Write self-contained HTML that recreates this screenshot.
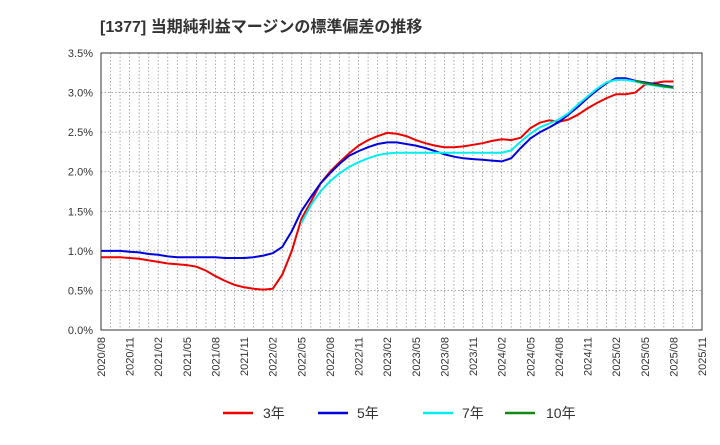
<!DOCTYPE html><html><head><meta charset="utf-8"><style>body{margin:0;background:#fff}svg{font-family:"Liberation Sans","Noto Sans CJK JP",sans-serif}</style></head><body>
<svg id="s" width="720" height="440" xmlns="http://www.w3.org/2000/svg">
<text x="100" y="32" font-size="16" font-weight="bold" fill="#333">[1377]  当期純利益マージンの標準偏差の推移</text>
<g id="g"></g>
<rect x="101" y="53" width="601" height="277" fill="none" stroke="#333" stroke-width="1"/>
<g font-size="11" fill="#333">
<line x1="223" y1="413" x2="253" y2="413" stroke="#e00" stroke-width="2.5"/><text x="263" y="418" font-size="14">3年</text>
<line x1="318" y1="413" x2="348" y2="413" stroke="#00d" stroke-width="2.5"/><text x="357" y="418" font-size="14">5年</text>
<line x1="423" y1="413" x2="453" y2="413" stroke="#0ee" stroke-width="2.5"/><text x="462" y="418" font-size="14">7年</text>
<line x1="505" y1="413" x2="535" y2="413" stroke="#181" stroke-width="2.5"/><text x="546" y="418" font-size="14">10年</text>
</g>
</svg>
<script>
const g=document.getElementById('g');let h='';
const X=m=>101+m*601/63,Y=v=>330-v*79.14;
for(let m=1;m<63;m++)h+=`<line x1="${X(m)}" y1="53" x2="${X(m)}" y2="330" stroke="#999" stroke-dasharray="1.5,2" stroke-width="0.8"/>`;
for(let i=0;i<=7;i++){const y=Y(i*0.5);if(i>0&&i<7)h+=`<line x1="101" y1="${y}" x2="702" y2="${y}" stroke="#999" stroke-dasharray="1.5,2" stroke-width="0.8"/>`;
h+=`<text x="93" y="${y+4}" font-size="11" fill="#333" text-anchor="end">${(i*0.5).toFixed(1)}%</text>`;}
for(let k=0;k<22;k++){const m=k*3,yr=2020+Math.floor((7+m)/12),mo=(7+m)%12+1;
h+=`<text transform="translate(${X(m)+4},337) rotate(-90)" font-size="11" fill="#333" text-anchor="end">${yr}/${String(mo).padStart(2,'0')}</text>`;}
function P(st,a,c){let d='';a.forEach((v,i)=>{d+=(i?'L':'M')+X(st+i).toFixed(1)+','+Y(v).toFixed(1)});h+=`<path d="${d}" fill="none" stroke="${c}" stroke-width="2"/>`;}
P(0,[.92,.92,.92,.91,.90,.88,.86,.84,.83,.82,.80,.75,.68,.62,.57,.54,.52,.51,.52,.70,1.0,1.4,1.62,1.85,2.0,2.12,2.23,2.33,2.40,2.45,2.49,2.48,2.45,2.40,2.36,2.33,2.31,2.31,2.32,2.34,2.36,2.39,2.41,2.40,2.43,2.55,2.62,2.65,2.63,2.66,2.72,2.80,2.87,2.93,2.98,2.98,3.00,3.10,3.12,3.14,3.14],'#e00');
P(0,[1.0,1.0,1.0,.99,.98,.96,.95,.93,.92,.92,.92,.92,.92,.91,.91,.91,.92,.94,.97,1.05,1.25,1.5,1.68,1.85,1.98,2.1,2.2,2.26,2.31,2.35,2.37,2.37,2.35,2.33,2.30,2.26,2.22,2.19,2.17,2.16,2.15,2.14,2.13,2.17,2.30,2.42,2.50,2.56,2.63,2.72,2.82,2.93,3.03,3.12,3.18,3.18,3.15,3.13,3.11,3.09,3.07],'#00d');
P(21,[1.35,1.58,1.75,1.88,1.98,2.06,2.12,2.17,2.21,2.23,2.24,2.24,2.24,2.24,2.24,2.24,2.24,2.24,2.24,2.24,2.24,2.24,2.27,2.38,2.48,2.56,2.61,2.66,2.74,2.85,2.95,3.05,3.13,3.16,3.16,3.14,3.11,3.09,3.07,3.06],'#0ee');
P(56,[3.15,3.12,3.10,3.08,3.06],'#181');
g.innerHTML=h;
</script>
</body></html>
